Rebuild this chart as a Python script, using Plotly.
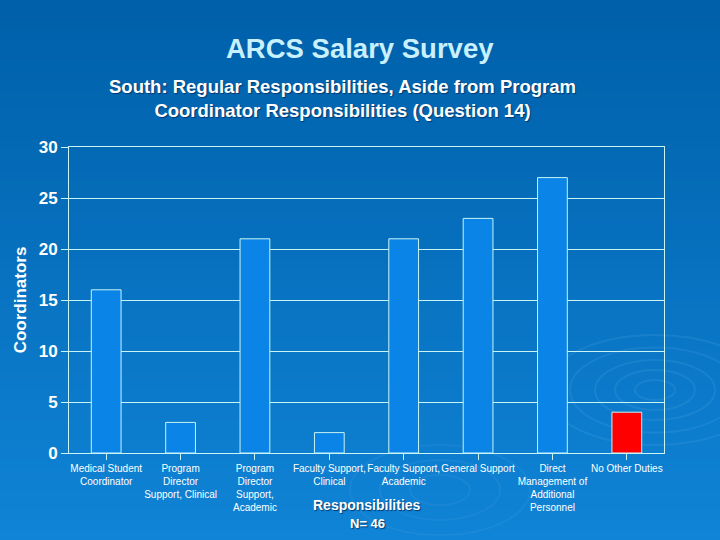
import plotly.graph_objects as go

categories = ["Medical Student<br>Coordinator", "Program<br>Director<br>Support, Clinical",
              "Program<br>Director<br>Support,<br>Academic", "Faculty Support,<br>Clinical",
              "Faculty Support,<br>Academic", "General Support",
              "Direct<br>Management of<br>Additional<br>Personnel", "No Other Duties"]
values = [16, 3, 21, 2, 21, 23, 27, 4]
bar_colors = ["#0a84e6"] * 7 + ["#ff0000"]
y_ticks = [0, 5, 10, 15, 20, 25, 30]

LINE = "#c8f4f4"
L, R, T, B = 69, 56, 147, 87
PW, PH = 720 - L - R, 540 - T - B

fig = go.Figure()
fig.add_trace(go.Bar(
    x=list(range(len(categories))), y=values, width=0.4,
    marker=dict(color=bar_colors, line=dict(color=LINE, width=1)),
))

def px_x(x):
    return (x - L) / PW

def px_y(y):
    return (540 - B - y) / PH

# gradient background covering the whole paper
shapes = []
n = 54
top = (0, 96, 170)
bot = (16, 132, 214)
for i in range(n):
    t = i / (n - 1)
    c = tuple(int(top[k] + (bot[k] - top[k]) * t) for k in range(3))
    y_top = i * 540 / n
    y_bot = (i + 1) * 540 / n + 1
    shapes.append(dict(type="rect", xref="paper", yref="paper", x0=px_x(-5), x1=px_x(725),
                       y0=px_y(y_bot), y1=px_y(y_top), layer="below",
                       line=dict(width=0), fillcolor="rgb(%d,%d,%d)" % c))
# faint ripples
for r in [20, 40, 60, 85, 110]:
    shapes.append(dict(type="circle", xref="paper", yref="paper",
                       x0=px_x(655 - r), x1=px_x(655 + r),
                       y0=px_y(390 + r * 0.5), y1=px_y(390 - r * 0.5),
                       layer="below", line=dict(color="rgba(120,190,240,0.13)", width=2)))
for r in [30, 60, 90]:
    shapes.append(dict(type="circle", xref="paper", yref="paper",
                       x0=px_x(440 - r), x1=px_x(440 + r),
                       y0=px_y(490 + r * 0.5), y1=px_y(490 - r * 0.5),
                       layer="below", line=dict(color="rgba(120,190,240,0.10)", width=2)))

fig.update_layout(
    width=720, height=540,
    margin=dict(l=L, r=R, t=T, b=B),
    paper_bgcolor="#0066b0", plot_bgcolor="rgba(0,0,0,0)",
    showlegend=False, shapes=shapes,
    font=dict(family="Liberation Sans, Arial", color="white"),
)
fig.update_xaxes(
    tickmode="array", tickvals=list(range(len(categories))), ticktext=categories,
    range=[-0.5, len(categories) - 0.5],
    tickangle=0, tickfont=dict(size=10, color="white"),
    showline=True, linecolor=LINE, linewidth=1, mirror=True,
    ticks="outside", ticklen=6, tickcolor=LINE, tickson="boundaries",
    showgrid=False,
)
fig.update_yaxes(
    range=[0, 30], tickvals=y_ticks, tickfont=dict(size=17, color="white", weight="bold"),
    showline=True, linecolor=LINE, linewidth=1, mirror=True,
    ticks="outside", ticklen=7, tickcolor=LINE,
    showgrid=True, gridcolor=LINE, gridwidth=1, zeroline=False,
    title=dict(text="Coordinators", font=dict(size=17, color="white", weight="bold"), standoff=7),
)
shadow = "1px 1px 1px #003a70"
fig.add_annotation(text="ARCS Salary Survey", x=px_x(360), y=px_y(48), xref="paper", yref="paper",
                   xanchor="center", yanchor="middle", showarrow=False,
                   font=dict(size=27.5, color="#c8f0ff", weight="bold"))
fig.add_annotation(text="South: Regular Responsibilities, Aside from Program<br>Coordinator Responsibilities (Question 14)",
                   x=px_x(342), y=px_y(99), xref="paper", yref="paper",
                   xanchor="center", yanchor="middle", showarrow=False,
                   font=dict(size=18.5, color="white", weight="bold", shadow=shadow))
fig.add_annotation(text="Responsibilities", x=px_x(367), y=px_y(505), xref="paper", yref="paper",
                   xanchor="center", yanchor="middle", showarrow=False,
                   font=dict(size=14, color="white", weight="bold", shadow=shadow))
fig.add_annotation(text="N= 46", x=px_x(367), y=px_y(523), xref="paper", yref="paper",
                   xanchor="center", yanchor="middle", showarrow=False,
                   font=dict(size=13, color="white", weight="bold", shadow=shadow))

fig.write_html("out.html", config={"displayModeBar": False},
               post_script="document.body.style.margin='0';document.body.style.background='#0066b0';")
